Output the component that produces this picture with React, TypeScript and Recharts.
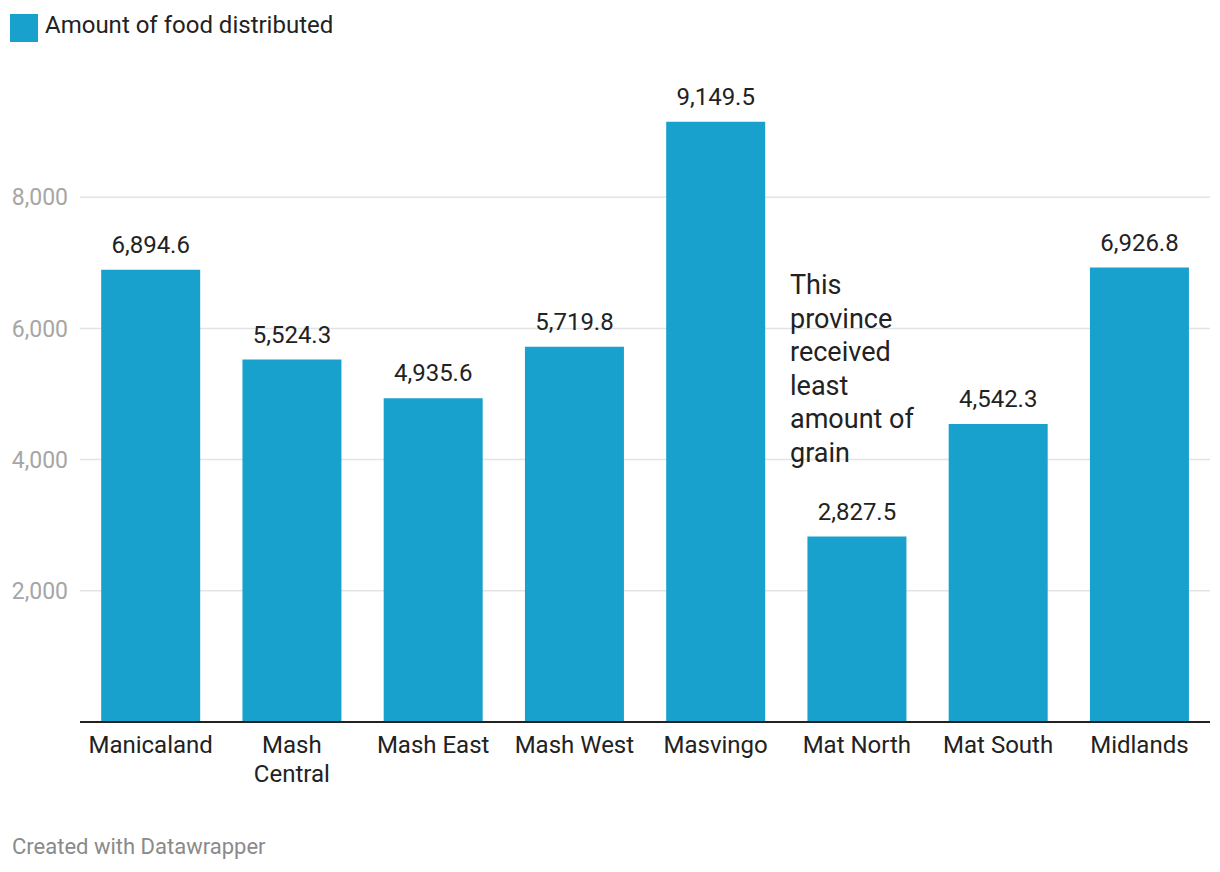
import React from 'react';
import { BarChart, Bar, XAxis, YAxis, CartesianGrid, LabelList } from 'recharts';

const provinces = ['Manicaland', 'Mash Central', 'Mash East', 'Mash West', 'Masvingo', 'Mat North', 'Mat South', 'Midlands'];
const foodDistributed = [6894.6, 5524.3, 4935.6, 5719.8, 9149.5, 2827.5, 4542.3, 6926.8];
const yTicks = [2000, 4000, 6000, 8000];
const yMax = 10000;
const noteLines = ['This', 'province', 'received', 'least', 'amount of', 'grain'];

const chartData = provinces.map((name, i) => ({ name, amount: foodDistributed[i] }));

const FONT = 'Roboto, "Noto Sans", sans-serif';
const BAR_COLOR = '#18a1cd';

const fmt = (v: number) =>
  v.toLocaleString('en-US', { minimumFractionDigits: 1, maximumFractionDigits: 1 });

const CategoryTick = (props: any) => {
  const { x, y, payload } = props;
  const label: string = payload.value;
  // long names wrap on two lines like the original
  const lines = label.length > 11 ? label.split(' ') : [label];
  return (
    <text x={x} y={y} textAnchor="middle" fill="#222" fontSize={24} fontFamily={FONT}>
      {lines.map((l, i) => (
        <tspan key={i} x={x} dy={i === 0 ? 23 : 29}>{l}</tspan>
      ))}
    </text>
  );
};

// only draw grid lines at the value ticks (no line at the top of the domain)
const gridLines = ({ offset }: any) =>
  yTicks.map((t) => offset.top + offset.height * (1 - t / yMax));

const App: React.FC = () => {
  return (
    <div style={{ position: 'absolute', left: 0, top: 0, width: 1220, height: 872, background: '#fff', fontFamily: FONT }}>
      <div style={{ position: 'absolute', left: 10, top: 14, width: 28, height: 28, background: BAR_COLOR }} />
      <div style={{ position: 'absolute', left: 45, top: 13, fontSize: 24, lineHeight: 1, color: '#222' }}>
        Amount of food distributed
      </div>

      <BarChart
        width={1220}
        height={872}
        data={chartData}
        margin={{ top: 66, right: 10, bottom: 80, left: 0 }}
        barCategoryGap="15%"
      >
        <CartesianGrid
          vertical={false}
          stroke="#e3e3e3"
          strokeWidth={1.5}
          horizontalCoordinatesGenerator={gridLines}
        />
        <XAxis
          dataKey="name"
          height={70}
          axisLine={{ stroke: '#222', strokeWidth: 2 }}
          tickLine={false}
          tick={<CategoryTick />}
          interval={0}
        />
        <YAxis
          width={80}
          domain={[0, yMax]}
          ticks={yTicks}
          axisLine={false}
          tickLine={false}
          tickSize={0}
          tickMargin={12}
          tickFormatter={(v: number) => v.toLocaleString('en-US')}
          tick={{ fill: '#a6a6a6', fontSize: 23, fontFamily: FONT }}
        />
        <Bar dataKey="amount" fill={BAR_COLOR} isAnimationActive={false}>
          <LabelList
            dataKey="amount"
            position="top"
            offset={17}
            formatter={(v: any) => fmt(Number(v))}
            style={{ fill: '#222', fontSize: 24, fontFamily: FONT }}
          />
        </Bar>
      </BarChart>

      <div style={{ position: 'absolute', left: 790, top: 269, fontSize: 27, lineHeight: '33.5px', color: '#222' }}>
        {noteLines.map((l, i) => (
          <div key={i}>{l}</div>
        ))}
      </div>

      <div style={{ position: 'absolute', left: 12, top: 836, fontSize: 22, lineHeight: 1, color: '#8a8a8a' }}>
        Created with Datawrapper
      </div>
    </div>
  );
};

export default App;
